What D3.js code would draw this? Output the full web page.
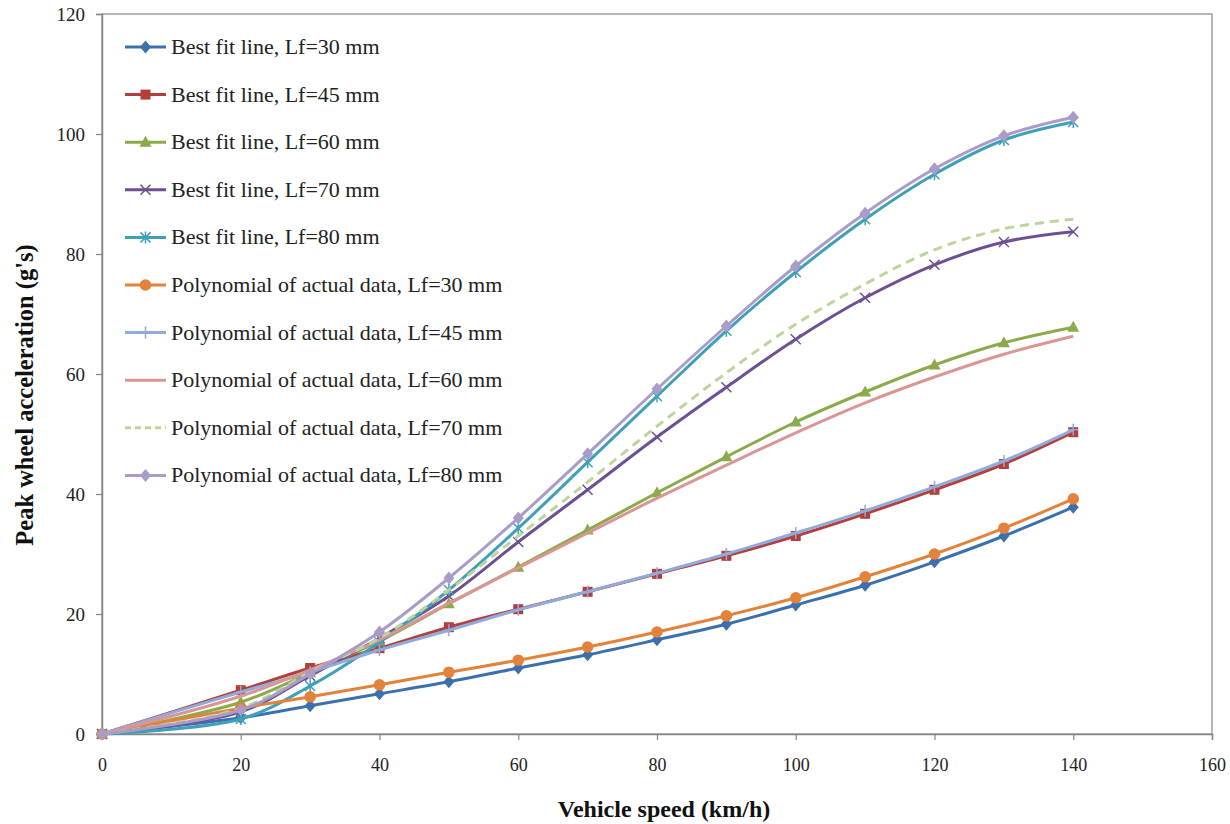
<!DOCTYPE html>
<html><head><meta charset="utf-8">
<script src="https://cdn.jsdelivr.net/npm/d3@7"></script>
<style>body{margin:0;background:#fff}svg{display:block}</style>
</head><body>
<script>
const speeds = [0,20,30,40,50,60,70,80,90,100,110,120,130,140];
const fit30  = [0,2.7,4.7,6.7,8.7,11,13.2,15.7,18.3,21.5,24.8,28.7,33,37.8];
const fit45  = [0,7.3,11,14.3,17.8,20.8,23.7,26.7,29.7,33,36.7,40.7,45,50.3];
const fit60  = [0,5.3,10.2,15.5,21.7,27.8,34,40.2,46.2,52,57,61.5,65.2,67.8];
const fit70  = [0,3.7,9.7,16,23,32,40.7,49.5,57.8,65.8,72.7,78.2,82,83.7];
const fit80  = [0,2.5,8,15.3,24,34.3,45.3,56.3,67.2,77,85.8,93.3,99,102];
const poly30 = [0,4.3,6.2,8.2,10.3,12.3,14.5,17,19.7,22.7,26.2,30,34.3,39.2];
const poly45 = [0,7,10.3,14,17.3,20.7,23.7,26.8,30,33.5,37.2,41.2,45.5,50.7];
const poly60 = [0,6.3,10.7,15.7,21.8,27.7,33.5,39.3,44.8,50.2,55.2,59.5,63.3,66.3];
const poly70 = [0,4.3,10.3,16,24,33,42,51.3,60.2,68.3,75,80.7,84.2,85.8];
const poly80 = [0,4,10,17,26,36,46.7,57.5,68,78,86.8,94.2,99.7,102.8];
const seriesNames = ["Best fit line, Lf=30 mm","Best fit line, Lf=45 mm","Best fit line, Lf=60 mm","Best fit line, Lf=70 mm","Best fit line, Lf=80 mm",
 "Polynomial of actual data, Lf=30 mm","Polynomial of actual data, Lf=45 mm","Polynomial of actual data, Lf=60 mm","Polynomial of actual data, Lf=70 mm","Polynomial of actual data, Lf=80 mm"];
const xTicks = [0,20,40,60,80,100,120,140,160];
const yTicks = [0,20,40,60,80,100,120];

const styles = [
 {c:"#3B6FAD", m:"diamond"},
 {c:"#B23F3B", m:"square"},
 {c:"#8BAA4A", m:"triangle"},
 {c:"#6B5193", m:"x"},
 {c:"#3FA1B9", m:"star"},
 {c:"#E3823A", m:"circle"},
 {c:"#90AADA", m:"plus"},
 {c:"#D99694", m:"none"},
 {c:"#BDD59B", m:"none", dash:"9,6"},
 {c:"#AA9CC8", m:"diamond"}
];
const values = [fit30,fit45,fit60,fit70,fit80,poly30,poly45,poly60,poly70,poly80];

const FONT = "'Liberation Serif','Times New Roman',serif";
const W=1230,H=824;
const svg=d3.select("body").append("svg").attr("width",W).attr("height",H);
const x=d3.scaleLinear().domain([0,160]).range([102,1212]);
const y=d3.scaleLinear().domain([0,120]).range([734,14]);
const axisCol="#868686";

svg.append("rect").attr("x",102).attr("y",14).attr("width",1110).attr("height",720)
  .attr("fill","none").attr("stroke",axisCol).attr("stroke-width",1.2);

const gx=svg.append("g").attr("transform","translate(0,734)")
 .call(d3.axisBottom(x).tickValues(xTicks).tickSize(6).tickPadding(18).tickFormat(d3.format("d")));
const gy=svg.append("g").attr("transform","translate(102,0)")
 .call(d3.axisLeft(y).tickValues(yTicks).tickSize(6).tickPadding(11).tickFormat(d3.format("d")));
[gx,gy].forEach(g=>{
  g.select(".domain").attr("stroke",axisCol).attr("stroke-width",1.5);
  g.selectAll(".tick line").attr("stroke",axisCol).attr("stroke-width",1.2);
  g.selectAll(".tick text").attr("fill","#222").attr("font-family",FONT);
});
gx.selectAll(".tick text").attr("font-size",18);
gy.selectAll(".tick text").attr("font-size",19);

svg.append("text").attr("x",664).attr("y",817).attr("text-anchor","middle")
 .attr("font-family",FONT).attr("font-weight","bold").attr("font-size",24).attr("fill","#111")
 .text("Vehicle speed (km/h)");
svg.append("text").attr("transform","translate(33,395) rotate(-90)").attr("text-anchor","middle")
 .attr("font-family",FONT).attr("font-weight","bold").attr("font-size",24.5).attr("fill","#111")
 .text("Peak wheel acceleration (g's)");

const line=d3.line().x((d,i)=>x(speeds[i])).y(d=>y(d)).curve(d3.curveCatmullRom.alpha(0.5));

function marker(g,type,cx,cy,col){
  const s=5.5;
  if(type==="diamond") g.append("path").attr("d",`M${cx},${cy-s-1}L${cx+s},${cy}L${cx},${cy+s+1}L${cx-s},${cy}Z`).attr("fill",col);
  else if(type==="square") g.append("rect").attr("x",cx-5).attr("y",cy-5).attr("width",10).attr("height",10).attr("fill",col);
  else if(type==="triangle") g.append("path").attr("d",`M${cx},${cy-6.5}L${cx+6},${cy+4.5}L${cx-6},${cy+4.5}Z`).attr("fill",col);
  else if(type==="circle") g.append("circle").attr("cx",cx).attr("cy",cy).attr("r",5.8).attr("fill",col);
  else if(type==="x") g.append("path").attr("d",`M${cx-5},${cy-5}L${cx+5},${cy+5}M${cx-5},${cy+5}L${cx+5},${cy-5}`).attr("stroke",col).attr("stroke-width",1.5);
  else if(type==="star") g.append("path").attr("d",`M${cx-5},${cy-5}L${cx+5},${cy+5}M${cx-5},${cy+5}L${cx+5},${cy-5}M${cx},${cy-6}L${cx},${cy+6}`).attr("stroke",col).attr("stroke-width",1.5);
  else if(type==="plus") g.append("path").attr("d",`M${cx},${cy-6}L${cx},${cy+6}M${cx-5},${cy}L${cx+5},${cy}`).attr("stroke",col).attr("stroke-width",1.5);
}

values.forEach((vals,k)=>{
  const st=styles[k];
  const g=svg.append("g");
  g.append("path").attr("d",line(vals)).attr("fill","none").attr("stroke",st.c)
   .attr("stroke-width",3).attr("stroke-dasharray",st.dash||null).attr("stroke-linejoin","round");
  if(st.m!=="none") vals.forEach((v,i)=>marker(g,st.m,x(speeds[i]),y(v),st.c));
});

const leg=svg.append("g");
seriesNames.forEach((n,k)=>{
  const st=styles[k];
  const yy=47+k*47.6;
  leg.append("line").attr("x1",125).attr("x2",166).attr("y1",yy).attr("y2",yy).attr("stroke",st.c)
   .attr("stroke-width",3).attr("stroke-dasharray",st.dash?"6,4":null);
  if(st.m!=="none") marker(leg,st.m,145.5,yy,st.c);
  leg.append("text").attr("x",171).attr("y",yy+7).attr("font-family",FONT).attr("font-size",22)
   .attr("fill","#222").text(n);
});
</script>
</body></html>
